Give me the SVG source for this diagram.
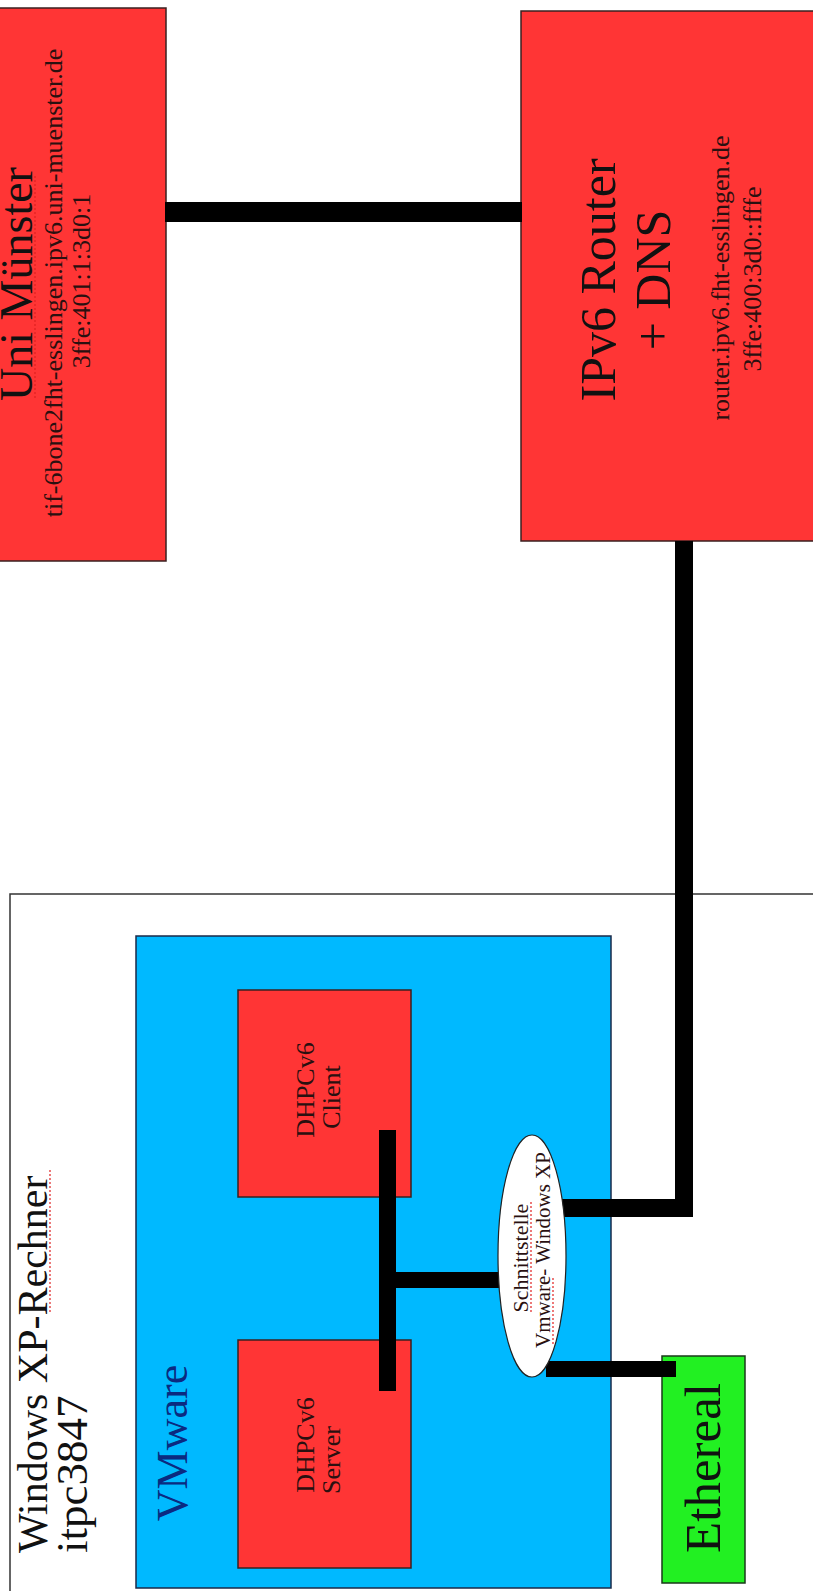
<svg xmlns="http://www.w3.org/2000/svg" width="813" height="1591" viewBox="0 0 813 1591">
<defs>
<style>
text{font-family:"Liberation Serif","Times New Roman",serif;}
.red{fill:#ff3535;stroke:#3a2020;stroke-width:1.5;}
.blue{fill:#00b9ff;stroke:#1a2a4a;stroke-width:1.5;}
.green{fill:#22f022;stroke:#1a3a1a;stroke-width:1.5;}
.outer{fill:#ffffff;stroke:#333333;stroke-width:1.5;}
.ell{fill:#ffffff;stroke:#222222;stroke-width:1.2;}
.wire{fill:none;stroke:#000000;stroke-linecap:butt;stroke-linejoin:miter;}
.title{fill:#111111;}
.small{fill:#2a1010;}
.squig{fill:none;stroke:#e02020;stroke-width:1.2;stroke-dasharray:2 2;}
</style>
</defs>
<rect x="0" y="0" width="813" height="1591" fill="#ffffff"/>

<g id="node-uni-muenster">
<rect class="red" x="-4" y="8" width="170" height="553"/>
<text class="title" font-size="46" text-anchor="middle" transform="translate(32,284) rotate(-90)">Uni Münster</text>
<text class="small" font-size="26" text-anchor="middle" transform="translate(62,283) rotate(-90)">tif-6bone2fht-esslingen.ipv6.uni-muenster.de</text>
<text class="small" font-size="26" text-anchor="middle" transform="translate(90,281) rotate(-90)">3ffe:401:1:3d0:1</text>
</g>

<g id="node-router">
<rect class="red" x="521" y="11" width="300" height="530"/>
<text class="title" font-size="50" text-anchor="middle" transform="translate(615,280) rotate(-90)">IPv6 Router</text>
<text class="title" font-size="50" text-anchor="middle" transform="translate(670,280) rotate(-90)">+ DNS</text>
<text class="small" font-size="26" text-anchor="middle" transform="translate(729,278) rotate(-90)">router.ipv6.fht-esslingen.de</text>
<text class="small" font-size="26" text-anchor="middle" transform="translate(761,279) rotate(-90)">3ffe:400:3d0::fffe</text>
</g>

<g id="node-windows-xp-rechner">
<rect class="outer" x="10" y="894" width="820" height="720"/>
<text class="title" font-size="42" transform="translate(47,1553) rotate(-90)">Windows XP-Rechner</text>
<text class="title" font-size="45" transform="translate(87,1553) rotate(-90)">itpc3847</text>
</g>

<g id="node-vmware">
<rect class="blue" x="136" y="936" width="475" height="652"/>
<text font-size="44" fill="#0b2a80" text-anchor="middle" transform="translate(187,1443) rotate(-90)">VMware</text>
</g>

<g id="node-dhcp-client">
<rect class="red" x="238" y="990" width="173" height="207"/>
<text class="small" font-size="26" text-anchor="middle" transform="translate(314,1090) rotate(-90)">DHPCv6</text>
<text class="small" font-size="26" text-anchor="middle" transform="translate(340,1097) rotate(-90)">Client</text>
</g>

<g id="node-dhcp-server">
<rect class="red" x="238" y="1340" width="173" height="228"/>
<text class="small" font-size="26" text-anchor="middle" transform="translate(314,1445) rotate(-90)">DHPCv6</text>
<text class="small" font-size="26" text-anchor="middle" transform="translate(340,1460) rotate(-90)">Server</text>
</g>

<g id="node-ethereal">
<rect class="green" x="662" y="1356" width="83" height="227"/>
<text class="title" font-size="51" text-anchor="middle" transform="translate(720,1468) rotate(-90)">Ethereal</text>
</g>

<g id="connectors">
<path class="wire" stroke-width="20" d="M165,212 H522"/>
<path class="wire" stroke-width="18" d="M684,541 V1208 H556"/>
<path class="wire" stroke-width="17" d="M387.5,1130 V1391"/>
<path class="wire" stroke-width="16" d="M387.5,1280 H503"/>
<path class="wire" stroke-width="16" d="M546,1369 H676"/>
</g>

<g id="node-schnittstelle">
<ellipse class="ell" cx="532" cy="1256" rx="34" ry="121"/>
<text class="small" font-size="22" text-anchor="middle" fill="#111" transform="translate(528,1258) rotate(-90)">Schnittstelle</text>
<text class="small" font-size="21" text-anchor="middle" fill="#111" transform="translate(550,1250) rotate(-90)">Vmware- Windows XP</text>
</g>

<g id="spellcheck">
<path class="squig" d="M35,176 V400"/>
<path class="squig" d="M50,1170 V1312"/>
<path class="squig" d="M531,1202 V1314"/>
<path class="squig" d="M553,1278 V1344"/>
</g>
</svg>
